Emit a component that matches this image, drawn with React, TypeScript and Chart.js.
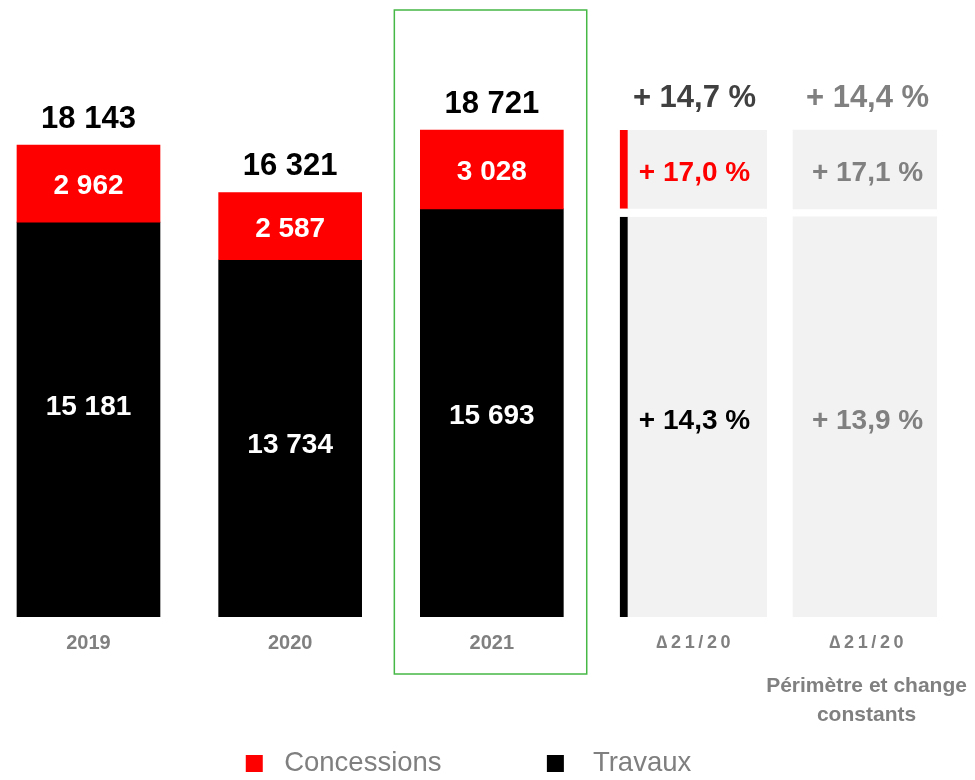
import React, { useEffect, useRef } from 'react';
import { Chart, registerables } from 'chart.js';

Chart.register(...registerables);

// ---------------- data ----------------
const YEARS = ['2019', '2020', '2021'];
const SERIES = ['Concessions', 'Travaux'];
const CONCESSIONS = [2962, 2587, 3028];
const TRAVAUX = [15181, 13734, 15693];
const DELTA_LABELS = ['∆21/20', '∆21/20'];
const DELTA_SUBTITLE = ['Périmètre et change', 'constants'];
const DELTA_TOTAL = [14.7, 14.4];
const DELTA_CONCESSIONS = [17.0, 17.1];
const DELTA_TRAVAUX = [14.3, 13.9];

// ---------------- layout / style ----------------
const W = 975;
const H = 780;
const FONT = '"Liberation Sans", Arial, Helvetica, sans-serif';
const X_POS = [0, 1, 2, 3, 3.858];
const X_MIN = -0.4388;
const X_MAX = 4.2074;
const Y_MAX = 23722;
const PANEL_GAP = 307;
const LEGEND_PAD = 90;
const LEGEND_H = 120.25;
const X_AXIS_H = 42.75;
const RED = '#ff0000';
const BLACK = '#000000';
const PANEL = '#f2f2f2';
const GREY = '#808080';
const TRAVAUX_NUDGE = [-12, 7, 3];
const DELTA_COLORS = [
  ['#404040', RED, BLACK],
  [GREY, GREY, GREY],
];
const LEGEND_PREFIX = [' ', '  '];
const LEGEND_SUFFIX = ['  ', ''];

Chart.defaults.font.family = FONT;

const fmtInt = (n: number) => String(n).replace(/\B(?=(\d{3})+(?!\d))/g, ' ');
const fmtPct = (v: number) => '+ ' + v.toFixed(1).replace('.', ',') + ' %';
const spaceOut = (s: string) => Array.from(s).join('\u2009');
const TICK_LABELS = [...YEARS, ...DELTA_LABELS.map(spaceOut)];

const span = (el: any) => [Math.min(el.y, el.base), Math.max(el.y, el.base)];

const valueLabels = {
  id: 'valueLabels',
  afterDatasetsDraw(chart: any) {
    const ctx = chart.ctx;
    const conc = chart.getDatasetMeta(0).data;
    const trav = chart.getDatasetMeta(1).data;
    ctx.save();
    ctx.textAlign = 'center';
    ctx.textBaseline = 'middle';
    YEARS.forEach((_, i) => {
      const c = conc[i];
      const t = trav[i];
      const [cTop, cBot] = span(c);
      const [tTop, tBot] = span(t);
      ctx.fillStyle = '#000';
      ctx.font = `bold 31px ${FONT}`;
      ctx.fillText(fmtInt(CONCESSIONS[i] + TRAVAUX[i]), c.x, cTop - 26);
      ctx.fillStyle = '#fff';
      ctx.font = `bold 28px ${FONT}`;
      ctx.fillText(fmtInt(CONCESSIONS[i]), c.x, (cTop + cBot) / 2 + 3);
      ctx.fillText(fmtInt(TRAVAUX[i]), t.x, (tTop + tBot) / 2 + TRAVAUX_NUDGE[i]);
    });
    [2, 3].forEach((dsIdx, k) => {
      const els = chart.getDatasetMeta(dsIdx).data;
      const [upTop, upBot] = span(els[0]);
      const [loTop, loBot] = span(els[1]);
      const cx = els[0].x + 1;
      const col = DELTA_COLORS[k];
      ctx.font = `bold 31px ${FONT}`;
      ctx.fillStyle = col[0];
      ctx.fillText(fmtPct(DELTA_TOTAL[k]), cx, upTop - 32);
      ctx.font = `bold 28px ${FONT}`;
      ctx.fillStyle = col[1];
      ctx.fillText(fmtPct(DELTA_CONCESSIONS[k]), cx, (upTop + upBot) / 2 + 4);
      ctx.fillStyle = col[2];
      ctx.fillText(fmtPct(DELTA_TRAVAUX[k]), cx, (loTop + loBot) / 2 + 4);
    });
    ctx.restore();
  },
  afterDraw(chart: any) {
    const { ctx, chartArea, scales } = chart;
    const hl = chart.getDatasetMeta(0).data[YEARS.length - 1];
    ctx.save();
    ctx.strokeStyle = '#45b845';
    ctx.lineWidth = 1.5;
    ctx.strokeRect(hl.x - 97.5, 10, 192.4, chartArea.bottom + 57 - 10);
    const sx = scales.x.getPixelForValue(X_POS[X_POS.length - 1]);
    ctx.fillStyle = GREY;
    ctx.font = `bold 21px ${FONT}`;
    ctx.textAlign = 'center';
    ctx.textBaseline = 'alphabetic';
    DELTA_SUBTITLE.forEach((line, j) => ctx.fillText(line, sx, chartArea.bottom + 75 + j * 29));
    ctx.restore();
  },
};

export default function App() {
  const ref = useRef<HTMLCanvasElement>(null);

  useEffect(() => {
    const canvas = ref.current;
    if (!canvas) return;
    const last = YEARS.length - 1;
    const tLast = TRAVAUX[last];
    const cLast = CONCESSIONS[last];
    const panelData = (x: number) => [
      { x, y: [tLast, tLast + cLast] },
      { x, y: [0, tLast - PANEL_GAP] },
    ];
    const chart = new Chart(canvas, {
      type: 'bar',
      data: {
        datasets: [
          {
            label: SERIES[0],
            data: YEARS.map((_, i) => ({ x: X_POS[i], y: [TRAVAUX[i], TRAVAUX[i] + CONCESSIONS[i]] })),
            backgroundColor: RED,
            borderWidth: 0,
            grouped: false,
            barThickness: 143,
            maxBarThickness: 143,
          },
          {
            label: SERIES[1],
            data: YEARS.map((_, i) => ({ x: X_POS[i], y: [0, TRAVAUX[i]] })),
            backgroundColor: BLACK,
            borderWidth: 0,
            grouped: false,
            barThickness: 143,
            maxBarThickness: 143,
          },
          {
            label: 'delta-reported',
            data: panelData(X_POS[3]),
            backgroundColor: PANEL,
            borderColor: [RED, BLACK],
            borderWidth: { top: 0, right: 0, bottom: 0, left: 8 },
            borderSkipped: false,
            grouped: false,
            barThickness: 147,
            maxBarThickness: 147,
          },
          {
            label: 'delta-constant',
            data: panelData(X_POS[4]),
            backgroundColor: PANEL,
            borderWidth: 0,
            grouped: false,
            barThickness: 147,
            maxBarThickness: 147,
          },
        ] as any,
      },
      options: {
        responsive: false,
        devicePixelRatio: 1,
        animation: false,
        events: [],
        layout: { padding: { left: 0, right: 38, top: 0, bottom: 0 } },
        scales: {
          x: {
            type: 'linear',
            min: X_MIN,
            max: X_MAX,
            offset: false,
            bounds: 'data',
            grid: { display: false, drawTicks: false },
            border: { display: false },
            afterBuildTicks: (s: any) => {
              s.ticks = X_POS.map((v) => ({ value: v }));
            },
            afterFit: (s: any) => {
              s.height = X_AXIS_H;
            },
            ticks: {
              autoSkip: false,
              maxRotation: 0,
              minRotation: 0,
              padding: 14,
              color: GREY,
              font: (c: any) =>
                c.index < YEARS.length
                  ? { family: FONT, size: 20, weight: 'bold', lineHeight: 1.2 }
                  : { family: FONT, size: 18, weight: 'bold', lineHeight: 24 / 18 },
              callback: (_v: any, i: number) => TICK_LABELS[i],
            },
          },
          y: {
            type: 'linear',
            display: false,
            min: 0,
            max: Y_MAX,
          },
        },
        plugins: {
          tooltip: { enabled: false },
          legend: {
            display: true,
            position: 'bottom',
            align: 'center',
            maxHeight: LEGEND_H,
            labels: {
              boxWidth: 17,
              boxHeight: 17,
              padding: LEGEND_PAD,
              color: '#7f7f7f',
              font: { family: FONT, size: 27.5, weight: 'normal' },
              filter: (item: any) => item.datasetIndex < 2,
              generateLabels: (ch: any) =>
                (Chart.defaults.plugins.legend.labels as any)
                  .generateLabels(ch)
                  .map((it: any) => ({
                    ...it,
                    text: (LEGEND_PREFIX[it.datasetIndex] ?? '') + it.text + (LEGEND_SUFFIX[it.datasetIndex] ?? ''),
                    lineWidth: 0,
                  })),
            },
          },
        },
      } as any,
      plugins: [valueLabels],
    });
    return () => chart.destroy();
  }, []);

  return (
    <div style={{ position: 'absolute', left: 0, top: 0, width: W, height: H, background: '#fff' }}>
      <canvas ref={ref} width={W} height={H} style={{ display: 'block', width: W, height: H }} />
    </div>
  );
}
